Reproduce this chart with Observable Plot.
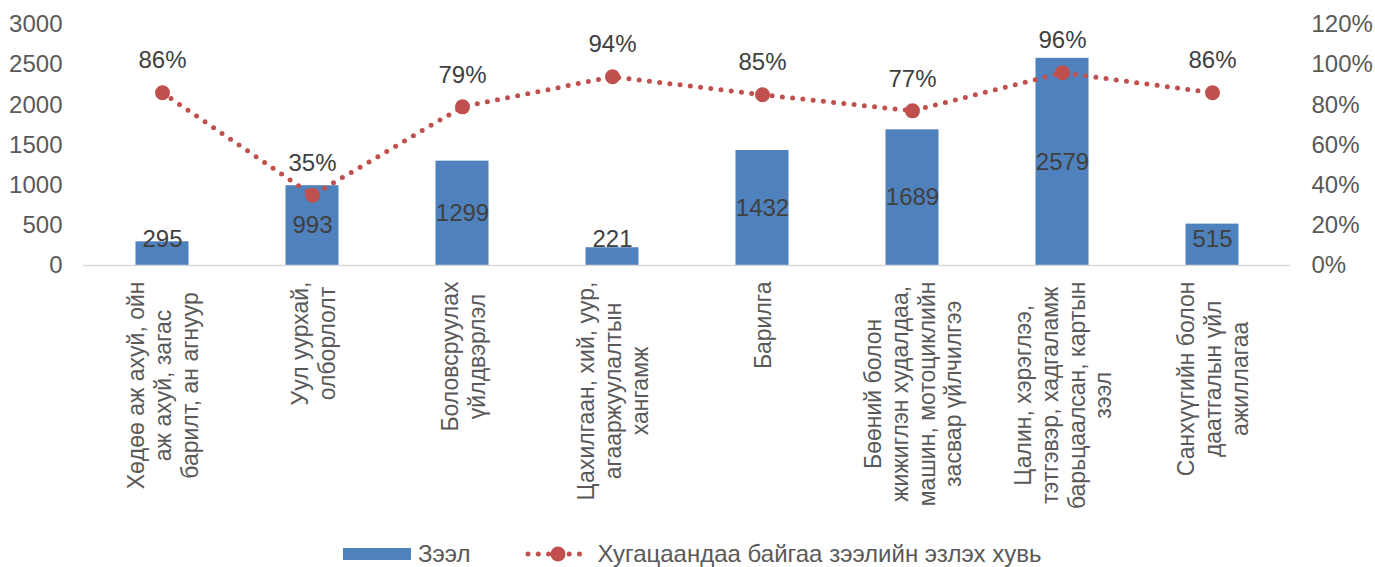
<!DOCTYPE html>
<html>
<head>
<meta charset="utf-8">
<script src="https://cdn.jsdelivr.net/npm/d3@7"></script>
<script src="https://cdn.jsdelivr.net/npm/@observablehq/plot@0.6"></script>
<style>
  html, body { margin: 0; padding: 0; background: #fff; }
  body { width: 1375px; height: 567px; overflow: hidden; font-family: "Liberation Sans", Arial, sans-serif; }
  #legend { display: flex; align-items: center; height: 27px; margin-top: 0px; padding-left: 343px; font-size: 24px; line-height: 27px; color: #595959; white-space: nowrap; }
  #legend .sw { width: 68px; height: 12px; background: #4f81bd; margin-right: 7px; }
  #legend .gap { width: 55px; }
  #legend svg { margin-right: 6px; }
</style>
</head>
<body>
<div id="chart"></div>
<div id="legend"></div>
<script>
const categories = [
  "Хөдөө аж ахуй, ойн\nаж ахуй, загас\nбарилт, ан агнуур",
  "Уул уурхай,\nолборлолт",
  "Боловсруулах\nүйлдвэрлэл",
  "Цахилгаан, хий, уур,\nагааржуулалтын\nхангамж",
  "Барилга",
  "Бөөний болон\nжижиглэн худалдаа,\nмашин, мотоциклийн\nзасвар үйлчилгээ",
  "Цалин, хэрэглээ,\nтэтгэвэр, хадгаламж\nбарьцаалсан, картын\nзээл",
  "Санхүүгийн болон\nдаатгалын үйл\nажиллагаа"
];
const loans = [295, 993, 1299, 221, 1432, 1689, 2579, 515];
const sharePct = [86, 35, 79, 94, 85, 77, 96, 86];
const leftTicks = [0, 500, 1000, 1500, 2000, 2500, 3000];
const seriesNames = ["Зээл", "Хугацаандаа байгаа зээлийн эзлэх хувь"];

const BLUE = "#4f81bd", RED = "#c0504d", AXIS = "#595959", LABEL = "#404040";
const FONT = "Liberation Sans, Arial, sans-serif";
const FS = 24;
const PCT_TO_LEFT = 3000 / 120; // right axis 0–120% maps onto left 0–3000

const data = categories.map((c, i) => ({cat: c, v: loans[i], p: sharePct[i]}));

// measure longest line of each category label
const ctx = document.createElement("canvas").getContext("2d");
ctx.font = `${FS - 1}px ${FONT}`;
const maxW = categories.map(c => d3.max(c.split("\n"), l => ctx.measureText(l).width));

const catLabelMarks = categories.map((c, i) =>
  Plot.text([c], {
    x: d => d, text: d => d, frameAnchor: "bottom", rotate: -90,
    textAnchor: "middle", lineAnchor: "middle", lineHeight: 1.17,
    dy: 16 + maxW[i] / 2, fontSize: FS - 1, fill: AXIS
  })
);

const chart = Plot.plot({
  width: 1375,
  height: 540,
  marginLeft: 83,
  marginRight: 85,
  marginTop: 24,
  marginBottom: 275,
  style: {fontFamily: FONT, fontSize: FS + "px", color: AXIS, background: "#fff"},
  x: {domain: categories, padding: 0, axis: null},
  y: {domain: [0, 3000], axis: null},
  marks: [
    Plot.axisY({anchor: "left", ticks: leftTicks, tickSize: 0, tickPadding: 21, tickFormat: d => String(d), label: null, fontSize: FS, fill: AXIS}),
    Plot.axisY({anchor: "right", ticks: leftTicks, tickSize: 0, tickPadding: 21, tickFormat: d => Math.round(d / PCT_TO_LEFT) + "%", label: null, fontSize: FS, fill: AXIS, textAnchor: "start"}),
    Plot.barY(data, {x: "cat", y: "v", fill: BLUE, insetLeft: 48.5, insetRight: 48.5}),
    Plot.ruleY([0], {stroke: "#d9d9d9", strokeWidth: 1.5}),
    Plot.text(data, {x: "cat", y: d => Math.max(d.v / 2, 320), text: d => String(d.v), fill: LABEL, fontSize: FS}),
    Plot.line(data, {x: "cat", y: d => d.p * PCT_TO_LEFT, stroke: RED, strokeWidth: 5, strokeDasharray: "0 10.3", strokeLinecap: "round"}),
    Plot.dot(data, {x: "cat", y: d => d.p * PCT_TO_LEFT, r: 7.5, fill: RED}),
    Plot.text(data, {x: "cat", y: d => d.p * PCT_TO_LEFT, text: d => d.p + "%", dy: -32, fill: LABEL, fontSize: FS}),
    ...catLabelMarks
  ]
});
document.getElementById("chart").appendChild(chart);

// legend
const lg = document.getElementById("legend");
lg.innerHTML = `<div class="sw"></div><span>${seriesNames[0]}</span><div class="gap"></div>
<svg width="66" height="20"><line x1="3" y1="10" x2="63" y2="10" stroke="${RED}" stroke-width="5" stroke-dasharray="0 10.3" stroke-linecap="round"/><circle cx="33" cy="10" r="7.5" fill="${RED}"/></svg><span>${seriesNames[1]}</span>`;
</script>
</body>
</html>
